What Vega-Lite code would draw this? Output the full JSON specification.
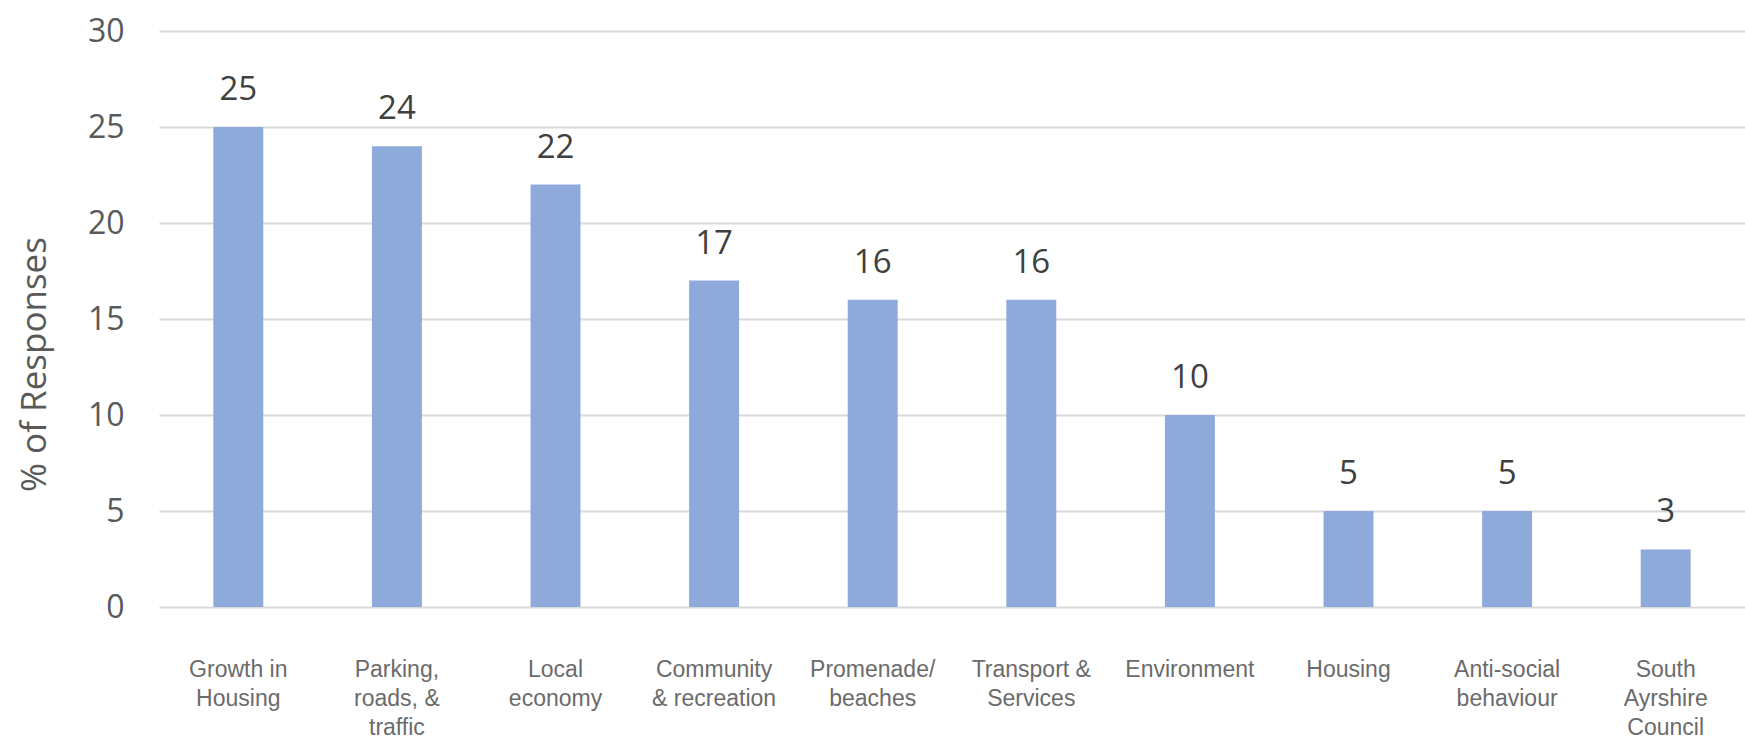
{
  "$schema": "https://vega.github.io/schema/vega-lite/v6.json",
  "autosize": {"type": "none"},
  "padding": {"left": 159, "top": 31, "right": 0, "bottom": 134},
  "width": 1586,
  "height": 576,
  "background": "white",
  "config": {"view": {"stroke": null}},
  "data": {"values": [
    {"category": "Growth in Housing", "value": 25},
    {"category": "Parking, roads, & traffic", "value": 24},
    {"category": "Local economy", "value": 22},
    {"category": "Community & recreation", "value": 17},
    {"category": "Promenade/ beaches", "value": 16},
    {"category": "Transport & Services", "value": 16},
    {"category": "Environment", "value": 10},
    {"category": "Housing", "value": 5},
    {"category": "Anti-social behaviour", "value": 5},
    {"category": "South Ayrshire Council", "value": 3}
  ]},
  "encoding": {
    "x": {
      "field": "category", "type": "nominal", "sort": null,
      "scale": {"paddingInner": 0.685, "paddingOuter": 0.3425},
      "axis": {
        "title": null, "labelAngle": 0, "domain": false, "ticks": false,
        "labelFont": "Liberation Sans", "labelFontSize": 23, "labelColor": "#6b6b6b",
        "labelPadding": 51, "labelLineHeight": 29, "labelLimit": 0,
        "labelExpr": "({'Growth in Housing':['Growth in','Housing'],'Parking, roads, & traffic':['Parking,','roads, &','traffic'],'Local economy':['Local','economy'],'Community & recreation':['Community','& recreation'],'Promenade/ beaches':['Promenade/','beaches'],'Transport & Services':['Transport &','Services'],'Environment':['Environment'],'Housing':['Housing'],'Anti-social behaviour':['Anti-social','behaviour'],'South Ayrshire Council':['South','Ayrshire','Council']})[datum.label]"
      }
    },
    "y": {
      "field": "value", "type": "quantitative",
      "scale": {"domain": [0, 30], "nice": false},
      "axis": {
        "title": "% of Responses", "values": [0, 5, 10, 15, 20, 25, 30],
        "domain": false, "ticks": false,
        "grid": true, "gridColor": "#d9d9d9", "gridWidth": 2,
        "labelFont": "Open Sans", "labelFontSize": 32, "labelColor": "#595959", "labelPadding": 35,
        "titleFont": "Open Sans", "titleFontSize": 35, "titleFontWeight": "normal", "titleColor": "#595959",
        "titleX": -114, "titleY": 333, "titleAngle": -90, "titleBaseline": "alphabetic", "titleAlign": "center"
      }
    }
  },
  "layer": [
    {"mark": {"type": "bar", "color": "#8eaadb"}},
    {"mark": {"type": "text", "font": "Open Sans", "fontSize": 33, "color": "#404040", "baseline": "alphabetic", "dy": -27},
     "encoding": {"text": {"field": "value", "type": "quantitative"}}}
  ]
}
